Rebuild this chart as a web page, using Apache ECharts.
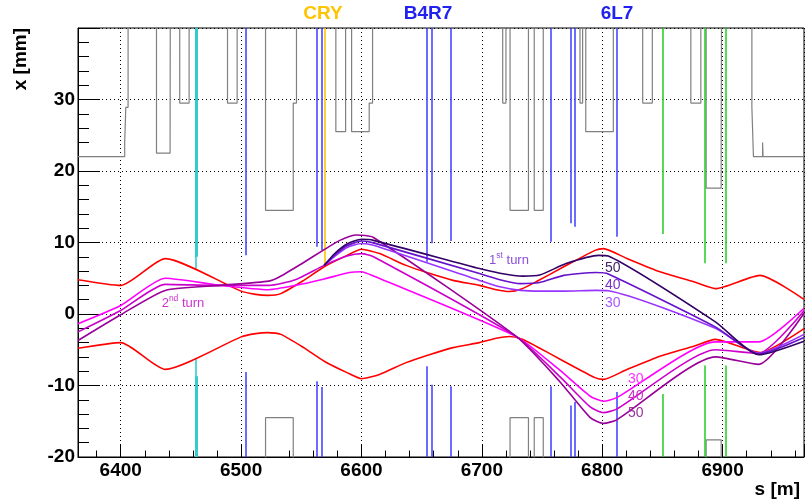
<!DOCTYPE html>
<html>
<head>
<meta charset="utf-8">
<script src="https://cdn.jsdelivr.net/npm/echarts@6/dist/echarts.min.js"></script>
<style>
	html, body { margin: 0; padding: 0; background: #fff; }
	#main { width: 805px; height: 502px; }
</style>
</head>
<body>
<div id="main"></div>
<script>
'use strict';

// aperture: s edges [m] and half aperture [mm] between them (null = wider than the frame)
const apertureEdges = [6364.5, 6403.3, 6404.2, 6406.1, 6429.7, 6441.0, 6441.6, 6449.0, 6456.8, 6488.7,
	6496.7, 6520.3, 6543.3, 6546.0, 6578.7, 6586.8, 6591.8, 6606.4, 6609.2, 6717.3,
	6720.0, 6723.4, 6738.7, 6743.5, 6751.0, 6781.5, 6783.7, 6786.3, 6809.2, 6833.6,
	6841.6, 6873.6, 6881.9, 6886.3, 6898.8, 6900.0, 6924.3, 6925.6, 6933.2, 6933.6, 6967.6];
const apertureHalf = [22.0, 24.0, 28.9, null, 22.5, 24.0, null, 29.5, null, 29.5,
	null, 14.5, 29.5, null, 25.5, null, 25.5, 29.5, null, 29.5,
	null, 14.5, null, 14.5, null, 29.5, null, 25.5, null, 29.5,
	null, 29.5, null, 17.6, 24.0, null, 28.9, 22.0, 24.0, 22.0];

// collimator jaws: s [m], upper jaw [mm], lower jaw [mm]
const tcpS = [6462.6, 6462.8];
const tcpUp = [6.15, 8.0];
const tcpDown = [-6.15, -8.7];
const blueS = [6503.6, 6562.7, 6566.9, 6654.1, 6658.0, 6674.0, 6757.4, 6773.5, 6777.1, 6812.0];
const blueUp = [8.2, 9.4, 8.9, 7.3, 9.9, 10.2, 10.1, 12.7, 12.2, 10.8];
const blueDown = [-8.1, -9.4, -10.2, -7.3, -9.9, -10.1, -10.1, -12.8, -12.3, -10.9];
const greenS = [6850.0, 6885.0, 6903.0];
const greenUp = [11.2, 7.1, 7.1];
const greenDown = [-11.2, -7.2, -7.2];
const crystalS = [6569.1];
const crystalUp = [6.8];

// beam envelope (symmetric)
const envS = [6364.5, 6400, 6437, 6500, 6512, 6522, 6533, 6552, 6569, 6588, 6600, 6615, 6637, 6657, 6676,
	6698, 6712, 6723, 6733, 6745, 6768, 6794, 6801, 6820, 6848, 6876, 6894, 6931, 6967.6];
const envX = [4.8, 4.0, 7.75, 3.2, 2.75, 2.6, 2.85, 4.7, 6.6, 8.2, 9.05, 8.45, 6.8, 5.65, 4.7,
	4.0, 3.4, 3.15, 3.5, 4.5, 6.6, 8.9, 9.15, 7.8, 5.9, 4.5, 3.55, 5.4, 2.05];

// 1st turn trajectories after the crystal (30, 40, 50)
const turn1_30 = [[6569, 6.8], [6578, 8.1], [6588, 9.3], [6600, 9.85], [6610, 9.6], [6698, 4.7], [6715, 3.8],
	[6732, 3.3], [6750, 3.2], [6768, 3.2], [6795, 3.3], [6805, 3.25], [6894, -2.0], [6930, -5.5], [6967.6, -2.85]];
const turn1_40 = [[6569, 6.8], [6578, 8.3], [6588, 9.55], [6600, 10.2], [6610, 9.95], [6698, 5.65], [6715, 4.8],
	[6732, 4.25], [6748, 4.4], [6768, 5.4], [6795, 5.8], [6805, 5.6], [6894, -1.8], [6930, -5.6], [6967.6, -3.3]];
const turn1_50 = [[6569, 6.8], [6578, 8.5], [6588, 9.8], [6600, 10.45], [6610, 10.3], [6698, 6.35], [6715, 5.7],
	[6734, 5.3], [6748, 5.45], [6770, 7.05], [6797, 8.2], [6805, 8.1], [6894, -1.1], [6930, -5.7], [6967.6, -3.8]];

// 2nd turn trajectories (30, 40, 50)
const turn2_30 = [[6364.5, -1.35], [6400, 1.2], [6437, 5.0], [6483, 4.0], [6523, 3.4], [6545, 4.0], [6569, 4.9],
	[6590, 5.8], [6600, 5.9], [6610, 5.3], [6729, -3.2], [6765, -7.9], [6790, -11.5], [6801, -12.2], [6812, -11.7],
	[6894, -3.9], [6930, -3.9], [6967.6, 0.8]];
const turn2_40 = [[6364.5, -2.5], [6400, 0.5], [6437, 4.15], [6483, 4.0], [6523, 4.0], [6545, 4.8], [6569, 6.8],
	[6588, 8.1], [6600, 8.45], [6610, 8.0], [6729, -3.2], [6765, -8.8], [6790, -13.0], [6801, -13.8], [6812, -13.3],
	[6894, -5.0], [6930, -5.5], [6967.6, 0.45]];
const turn2_50 = [[6364.5, -3.7], [6400, -0.1], [6437, 3.3], [6483, 4.0], [6523, 4.6], [6532, 5.2], [6550, 7.0],
	[6569, 9.0], [6582, 10.3], [6596, 11.05], [6610, 10.7], [6729, -3.2], [6765, -9.5], [6790, -14.5], [6801, -15.3],
	[6812, -14.8], [6894, -6.0], [6930, -7.05], [6967.6, 0.1]];

const S_MIN = 6364.5, S_MAX = 6967.6, Y_MIN = -20, Y_MAX = 40, OPEN = 99;
const FONT = 'Liberation Sans, Arial, Helvetica, sans-serif';

// step outline of the aperture, sign +1 upper, -1 lower
function apertureSteps(sign) {
	const pts = [];
	for (let i = 0; i < apertureHalf.length; i++) {
		const v = apertureHalf[i] === null ? OPEN : apertureHalf[i];
		pts.push([apertureEdges[i], sign * v], [apertureEdges[i + 1], sign * v]);
	}
	return pts;
}

// vertical jaw segments from the frame edge to the jaw
function jawSegments(sArr, upArr, downArr) {
	const segs = [];
	sArr.forEach(function(s, i) {
		if (upArr && upArr[i] !== null) segs.push({ coords: [[s, Y_MAX], [s, upArr[i]]] });
		if (downArr && downArr[i] !== null) segs.push({ coords: [[s, Y_MIN], [s, downArr[i]]] });
	});
	return segs;
}

function curve(data, color, z) {
	return {
		type: 'line', data: data, symbol: 'none', clip: true, z: z || 4, smooth: 0.2,
		lineStyle: { color: color, width: 1.6 }, silent: true
	};
}

function jaws(segs, color, width) {
	return {
		type: 'lines', coordinateSystem: 'cartesian2d', data: segs, z: 2, silent: true,
		lineStyle: { color: color, width: width, opacity: 1 }
	};
}

function txt(x, y, text, color, size, weight, align) {
	return {
		type: 'text', x: x, y: y, z: 100,
		style: {
			text: text, fill: color, fontSize: size, fontWeight: weight || 'normal',
			fontFamily: FONT, align: align || 'center', verticalAlign: 'middle'
		}
	};
}

function supText(x, y, num, sup, color) {
	return {
		type: 'text', x: x, y: y, z: 100,
		style: {
			text: '{n|' + num + '}{s|' + sup + '}{n| turn}', fill: color, fontFamily: FONT,
			align: 'center', verticalAlign: 'middle',
			rich: {
				n: { fontSize: 13, fill: color, fontFamily: FONT, verticalAlign: 'bottom', lineHeight: 16 },
				s: { fontSize: 8.5, fill: color, fontFamily: FONT, verticalAlign: 'top', lineHeight: 16 }
			}
		}
	};
}

const myChart = echarts.init(document.getElementById('main'), null, { renderer: 'canvas' });

const envLower = envS.map(function(s, i) { return [s, -envX[i]]; });
const envUpper = envS.map(function(s, i) { return [s, envX[i]]; });

const option = {
	animation: false,
	backgroundColor: '#fff',
	grid: {
		left: 78, right: 1, top: 28, bottom: 45, outerBoundsMode: 'none',
		show: true, borderColor: '#000', borderWidth: 1
	},
	xAxis: {
		type: 'value', min: S_MIN, max: S_MAX, splitNumber: 6,
		axisLine: { show: true, onZero: false, lineStyle: { color: '#000', width: 1 } },
		axisTick: { inside: true, length: 13, lineStyle: { color: '#000', width: 1 } },
		minorTick: { show: true, splitNumber: 5, length: 6.5, lineStyle: { color: '#000', width: 1 } },
		axisLabel: {
			showMinLabel: false, showMaxLabel: false, color: '#000', fontFamily: FONT,
			fontWeight: 'bold', fontSize: 19, margin: 4,
			formatter: function(v) { return String(v); }
		},
		splitLine: { show: true, lineStyle: { color: '#000', width: 1, type: [1, 3] } }
	},
	yAxis: {
		type: 'value', min: Y_MIN, max: Y_MAX, interval: 10,
		axisLine: { show: true, onZero: false, lineStyle: { color: '#000', width: 1 } },
		axisTick: { inside: true, length: 22, lineStyle: { color: '#000', width: 1 } },
		minorTick: { show: true, splitNumber: 5, length: 11, lineStyle: { color: '#000', width: 1 } },
		axisLabel: {
			showMaxLabel: false, color: '#000', fontFamily: FONT,
			fontWeight: 'bold', fontSize: 19, margin: 3
		},
		splitLine: { show: true, lineStyle: { color: '#000', width: 1, type: [1, 3] } }
	},
	series: [
		{
			type: 'line', data: apertureSteps(1), symbol: 'none', clip: true, z: 1, silent: true,
			lineStyle: { color: '#808080', width: 1.2 }
		},
		{
			type: 'line', data: apertureSteps(-1), symbol: 'none', clip: true, z: 1, silent: true,
			lineStyle: { color: '#808080', width: 1.2 }
		},
		jaws(jawSegments([tcpS[0]], [tcpUp[0]], [tcpDown[0]]), '#33cccc', 1.6),
		jaws(jawSegments([tcpS[1]], [tcpUp[1]], [tcpDown[1]]), '#33cccc', 3),
		jaws(jawSegments(blueS, blueUp, blueDown), '#3b3bff', 1.5),
		jaws(jawSegments(greenS, greenUp, greenDown), '#22cc22', 1.5),
		jaws(jawSegments(crystalS, crystalUp, null), '#ffc400', 1.6),
		curve(envUpper, '#ff0000', 3),
		curve(envLower, '#ff0000', 3),
		curve(turn2_30, '#ff00ff'),
		curve(turn2_40, '#cc00cc'),
		curve(turn2_50, '#990099'),
		curve(turn1_30, '#9933ff', 5),
		curve(turn1_40, '#6611cc', 5),
		curve(turn1_50, '#330066', 5)
	],
	graphic: [
		txt(323, 14, 'CRY', '#ffc400', 19, 'bold'),
		txt(428, 14, 'B4R7', '#2222ee', 19, 'bold'),
		txt(617, 14, '6L7', '#2222ee', 19, 'bold'),
		{
			type: 'text', x: 21, y: 28, rotation: Math.PI / 2, z: 100,
			style: {
				text: 'x [mm]', fill: '#000', fontSize: 19, fontWeight: 'bold', fontFamily: FONT,
				align: 'right', verticalAlign: 'middle'
			}
		},
		txt(800, 490, 's [m]', '#000', 19, 'bold', 'right'),
		supText(509, 259, '1', 'st', '#8a4fdd'),
		supText(183, 302, '2', 'nd', '#cc33cc'),
		txt(605, 268, '50', '#442266', 14, 'normal', 'left'),
		txt(605, 285, '40', '#7733cc', 14, 'normal', 'left'),
		txt(605, 303, '30', '#aa55ff', 14, 'normal', 'left'),
		txt(628, 379, '30', '#ff33ff', 14, 'normal', 'left'),
		txt(628, 396, '40', '#cc33cc', 14, 'normal', 'left'),
		txt(628, 413, '50', '#993399', 14, 'normal', 'left')
	]
};

myChart.setOption(option);
</script>
</body>
</html>
